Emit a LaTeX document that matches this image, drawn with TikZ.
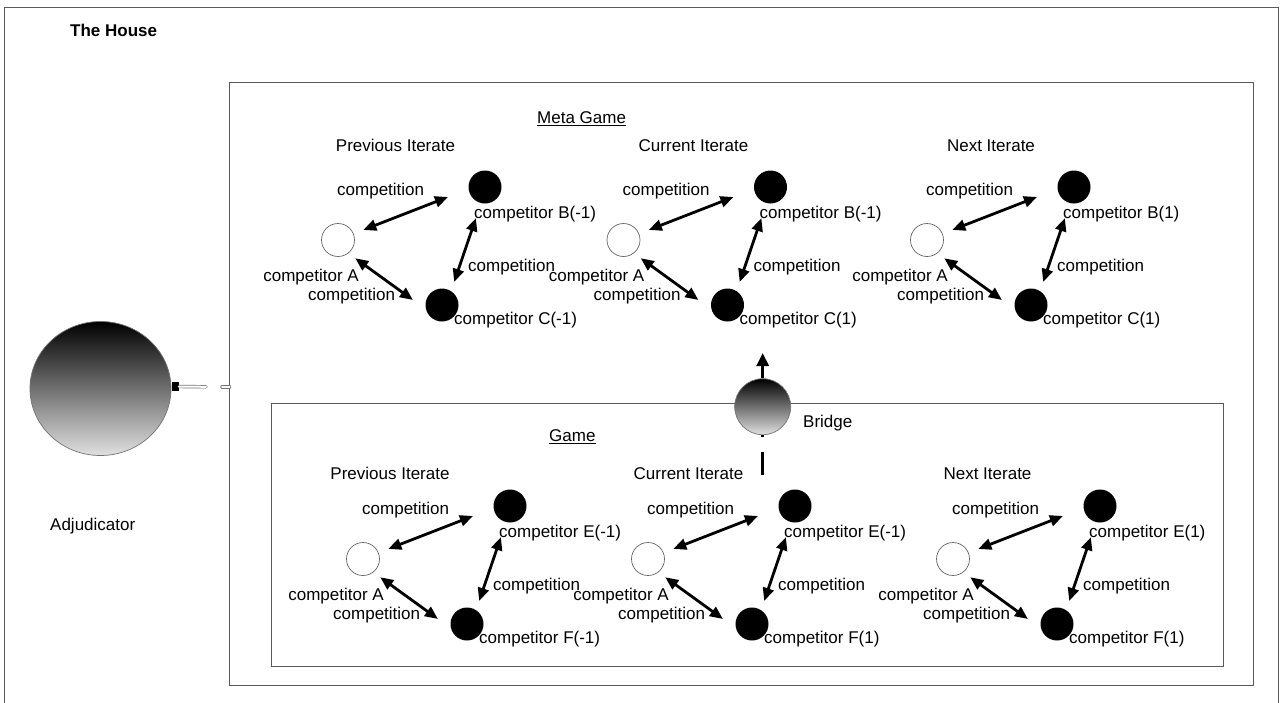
\documentclass[tikz,border=0pt]{standalone}
\usepackage{fontspec}
\setmainfont{Liberation Sans}
\usetikzlibrary{arrows.meta,shapes.geometric}
\tikzset{
  lbl/.style={inner sep=0pt, yshift=-2pt, font=\fontsize{17}{20}\selectfont, text height=12.5pt, text depth=3.5pt},
  frame/.style={draw=black!65, line width=1pt},
  wcirc/.style={circle, draw=black!60, line width=0.7pt, fill=white, minimum size=33pt, inner sep=0pt},
  bcirc/.style={circle, fill=black, minimum size=33pt, inner sep=0pt},
  biarr/.style={line width=2.8pt, {Triangle[length=13pt,width=11pt]}-{Triangle[length=13pt,width=11pt]}},
  uparr/.style={line width=3pt, -{Triangle[length=13pt,width=12pt]}},
  dasharr/.style={line width=3pt, dash pattern=on 23pt off 15pt},
  ball/.style={draw=black!55, line width=0.7pt, top color=black, bottom color=black!12, inner sep=0pt},
  plugbox/.style={fill=black, minimum width=7pt, minimum height=9pt, inner sep=0pt},
  linkline/.style={draw=black!55, line width=0.7pt, double=white, double distance=2pt, line cap=round},
}
\newcommand\mytriad[5]{%
  \begin{scope}[shift={(#2,#3)}]
    \node[wcirc] (#1A) at (0,0) {};
    \node[bcirc] (#1B) at (147,-53) {};
    \node[bcirc] (#1C) at (104,65) {};
    \node[lbl, anchor=west] (#1t1) at (-1,-51) {competition};
    \node[lbl, anchor=west] (#1bl) at (136,-28) {#4};
    \node[lbl, anchor=west] (#1t2) at (130,25) {competition};
    \node[lbl, anchor=east] (#1al) at (21,35) {competitor A};
    \node[lbl, anchor=west] (#1t3) at (-30,54) {competition};
    \node[lbl, anchor=west] (#1cl) at (116,78) {#5};
    \draw[biarr, shorten <=10.4pt, shorten >=22pt] (#1A.22) -- (#1B.187);
    \draw[biarr, shorten <=9.6pt, shorten >=15.8pt] (#1C.57) -- (#1B.256);
    \draw[biarr, shorten <=8.5pt, shorten >=16pt] (#1A.308) -- (#1C.195);
  \end{scope}}
\begin{document}
\begin{tikzpicture}[x=1pt,y=-1pt]
  \fill[white] (0,0) rectangle (1285,702);
  \useasboundingbox (0,0) rectangle (1285,702);
  \clip (0,0) rectangle (1285,702);
  % The House frame (bottom edge outside the picture)
  \draw[frame] (4,720) -- (4,7.5) -- (1278,7.5) -- (1278,720);
  \node[lbl, anchor=west, font=\bfseries\fontsize{17}{20}\selectfont] (house) at (70,30) {The House};
  % Meta game frame
  \draw[frame] (229.5,82) rectangle (1253,685);
  \coordinate (metaW) at (229.5,386.8);
  % Game frame
  \draw[frame] (271.5,403) rectangle (1223.5,666);
  % Adjudicator
  \node[ball, ellipse, minimum width=141pt, minimum height=134pt] (adj) at (100.5,388.5) {};
  \node[plugbox] (plug) at (175.5,386.5) {};
  \coordinate (lk1) at (206,386.8);
  \coordinate (lk2) at (222,386.8);
  \draw[linkline] (plug.east) -- (lk1);
  \draw[linkline] (lk2) -- (metaW);
  \node[lbl, anchor=west] (adjl) at (50,524) {Adjudicator};
  % Labels
  \node[lbl, anchor=west] (mg) at (537,117) {\underline{Meta Game}};
  \node[lbl, anchor=west] (gg) at (549,435) {\underline{Game}};
  \node[lbl] (mpi) at (395.5,145) {Previous Iterate};
  \node[lbl] (mci) at (693.5,145) {Current Iterate};
  \node[lbl] (mni) at (991,145) {Next Iterate};
  \node[lbl] (gpi) at (390,473) {Previous Iterate};
  \node[lbl] (gci) at (688.5,473) {Current Iterate};
  \node[lbl] (gni) at (987.5,473) {Next Iterate};
  % Triads
  \mytriad{mp}{338}{240}{competitor B(-1)}{competitor C(-1)}
  \mytriad{mc}{623.5}{240}{competitor B(-1)}{competitor C(1)}
  \mytriad{mn}{927}{240}{competitor B(1)}{competitor C(1)}
  \mytriad{gp}{363}{559}{competitor E(-1)}{competitor F(-1)}
  \mytriad{gc}{648}{559}{competitor E(-1)}{competitor F(1)}
  \mytriad{gn}{953}{559}{competitor E(1)}{competitor F(1)}
  % Bridge
  \node[ball, circle, minimum size=56pt] (bridge) at (762.7,406.7) {};
  \node[lbl, anchor=west] (bridgel) at (803,421) {Bridge};
  \coordinate (btip) at (762.7,353);
  \coordinate (bbot) at (762.7,475);
  \draw[uparr] (bridge.north) -- (btip);
  \draw[dasharr] (bbot) -- (bridge.south);
\end{tikzpicture}
\end{document}
